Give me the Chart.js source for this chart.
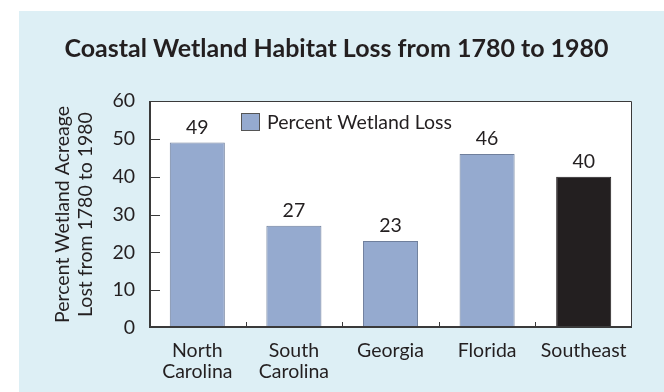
<!DOCTYPE html>
<html>
<head>
<meta charset="utf-8">
<script src="https://cdn.jsdelivr.net/npm/chart.js@4.4.0/dist/chart.umd.min.js"></script>
<style>
  html, body { margin: 0; padding: 0; background: #fff; }
</style>
</head>
<body>
<canvas id="graficoHumedales" width="664" height="392"></canvas>
<script>
// Datos: pérdida de humedales costeros 1780-1980
const regiones = [['North', 'Carolina'], ['South', 'Carolina'], 'Georgia', 'Florida', 'Southeast'];
const perdida = [49, 27, 23, 46, 40];
const colores = ['#95aacf', '#95aacf', '#95aacf', '#95aacf', '#231f20'];
const bordes = ['#6f7f9c', '#6f7f9c', '#6f7f9c', '#6f7f9c', '#231f20'];
const etiquetaSerie = 'Percent Wetland Loss';
const titulo = 'Coastal Wetland Habitat Loss from 1780 to 1980';
const tituloY = ['Percent Wetland Acreage', 'Lost from 1780 to 1980'];

const fuente = 'Lato, "Open Sans", sans-serif';
const tam = 19.5;
const tinta = '#231f20';

// Fondo celeste, área blanca, título, marco, marcas, etiquetas y leyenda
const decoracion = {
    id: 'decoracion',
    beforeDraw(chart) {
        const { ctx, chartArea: a } = chart;
        ctx.save();
        ctx.fillStyle = '#fff';
        ctx.fillRect(0, 0, chart.width, chart.height);
        ctx.fillStyle = '#ddeff5';
        ctx.fillRect(19, 11, chart.width - 19, chart.height - 11);
        ctx.fillStyle = '#fff';
        ctx.fillRect(a.left, a.top, a.right - a.left, a.bottom - a.top);
        // título
        ctx.fillStyle = tinta;
        ctx.font = 'bold 25px ' + fuente;
        ctx.textAlign = 'center';
        ctx.textBaseline = 'middle';
        ctx.fillText(titulo, 336.5, 49);
        ctx.restore();
    },
    afterDatasetsDraw(chart) {
        const { ctx, chartArea: a, scales } = chart;
        ctx.save();
        ctx.strokeStyle = '#3a3a3a';
        // marco superior y derecho
        ctx.lineWidth = 1;
        ctx.beginPath();
        ctx.moveTo(a.left, a.top + 0.5);
        ctx.lineTo(a.right - 0.5, a.top + 0.5);
        ctx.lineTo(a.right - 0.5, a.bottom);
        ctx.stroke();
        // ejes izquierdo e inferior
        ctx.lineWidth = 2;
        ctx.beginPath();
        ctx.moveTo(a.left + 1, a.top);
        ctx.lineTo(a.left + 1, a.bottom - 1);
        ctx.lineTo(a.right, a.bottom - 1);
        ctx.stroke();
        // marcas hacia adentro en Y
        ctx.lineWidth = 1;
        scales.y.ticks.forEach(t => {
            if (t.value === scales.y.min || t.value === scales.y.max) return;
            const y = Math.round(scales.y.getPixelForValue(t.value)) + 0.5;
            ctx.beginPath();
            ctx.moveTo(a.left, y);
            ctx.lineTo(a.left + 11, y);
            ctx.stroke();
        });
        // marcas entre categorías en X
        for (let i = 1; i < regiones.length; i++) {
            const x = Math.round((scales.x.getPixelForValue(i - 1) + scales.x.getPixelForValue(i)) / 2) + 0.5;
            ctx.beginPath();
            ctx.moveTo(x, a.bottom - 1);
            ctx.lineTo(x, a.bottom - 6);
            ctx.stroke();
        }
        // valores sobre las barras
        ctx.fillStyle = tinta;
        ctx.font = tam + 'px ' + fuente;
        ctx.textAlign = 'center';
        ctx.textBaseline = 'alphabetic';
        chart.getDatasetMeta(0).data.forEach((bar, i) => {
            ctx.fillText(String(perdida[i]), bar.x, bar.y - 9);
        });
        // leyenda dentro del área
        const lx = a.left + 92, ly = a.top + 12;
        ctx.fillStyle = colores[0];
        ctx.fillRect(lx, ly, 19, 18);
        ctx.strokeStyle = '#555';
        ctx.strokeRect(lx + 0.5, ly + 0.5, 18, 17);
        ctx.fillStyle = tinta;
        ctx.textAlign = 'left';
        ctx.textBaseline = 'middle';
        ctx.fillText(etiquetaSerie, lx + 26, ly + 10);
        ctx.restore();
    }
};

new Chart(document.getElementById('graficoHumedales').getContext('2d'), {
    type: 'bar',
    data: {
        labels: regiones,
        datasets: [{
            label: etiquetaSerie,
            data: perdida,
            backgroundColor: colores,
            borderColor: bordes,
            borderWidth: 1,
            borderSkipped: 'bottom',
            barPercentage: 0.57,
            categoryPercentage: 1
        }]
    },
    options: {
        responsive: false,
        animation: false,
        layout: { padding: { left: 19, right: 32, top: 101, bottom: 0 } },
        plugins: {
            legend: { display: false },
            tooltip: { enabled: false },
            title: { display: false }
        },
        scales: {
            y: {
                min: 0,
                max: 60,
                afterFit: s => { s.width = 130; },
                ticks: { stepSize: 10, color: tinta, padding: 14, font: { family: fuente, size: tam } },
                grid: { display: false, drawTicks: false },
                border: { display: false },
                title: {
                    display: true,
                    text: tituloY,
                    color: tinta,
                    font: { family: fuente, size: tam, lineHeight: 1.18 },
                    padding: { top: 32, bottom: 0 }
                }
            },
            x: {
                afterFit: s => { s.height = 64; },
                ticks: { color: tinta, padding: 12, maxRotation: 0, font: { family: fuente, size: tam, lineHeight: 1.08 } },
                grid: { display: false, drawTicks: false },
                border: { display: false }
            }
        }
    },
    plugins: [decoracion]
});
</script>
</body>
</html>
